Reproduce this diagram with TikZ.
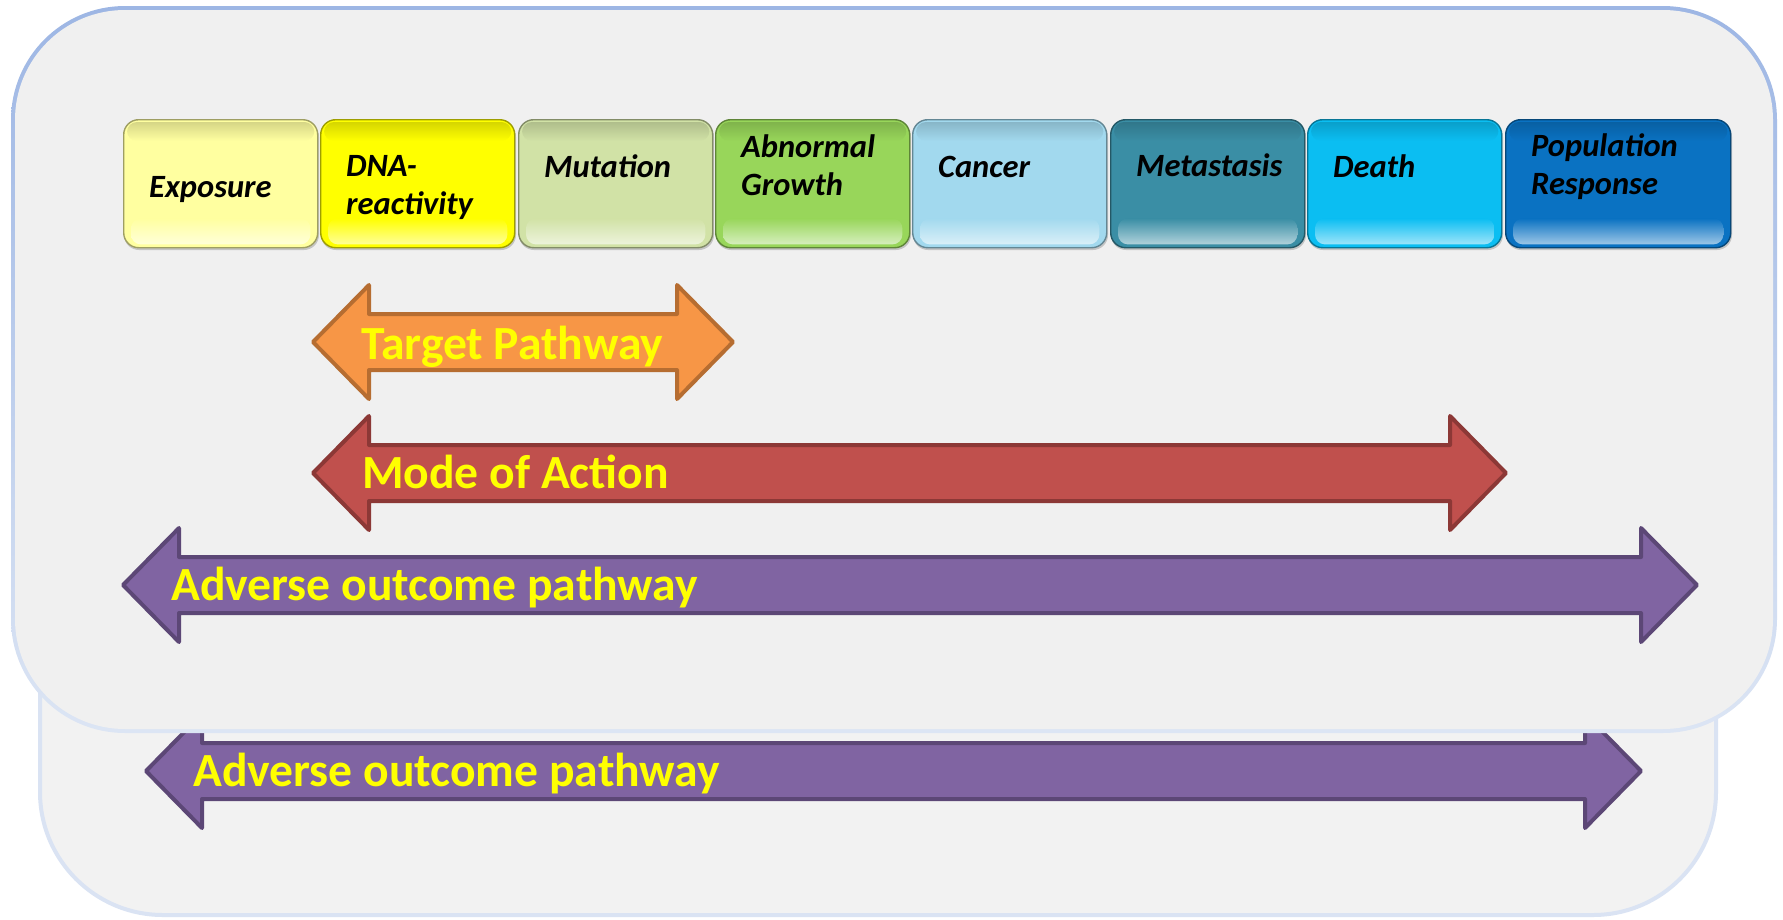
\documentclass[tikz,border=0pt]{standalone}
\usepackage{fontspec}
\setmainfont{Carlito}
\usetikzlibrary{calc}

% panel colours
\definecolor{panelfill}{HTML}{F0F0F0}
\definecolor{backfill}{HTML}{F2F2F2}
\definecolor{backedge}{HTML}{DAE3F3}
\definecolor{edgetop}{HTML}{9DB6E4}
\definecolor{edgebottom}{HTML}{DCE5F4}
% stage colours
\definecolor{cExposure}{HTML}{FFFFA0}
\definecolor{cDNA}{HTML}{FFFF00}
\definecolor{cMutation}{HTML}{D1E2A6}
\definecolor{cGrowth}{HTML}{98D65A}
\definecolor{cCancer}{HTML}{A2D9EE}
\definecolor{cMeta}{HTML}{3A8EA5}
\definecolor{cDeath}{HTML}{0BBEF2}
\definecolor{cPop}{HTML}{0A72C2}
% band colours
\definecolor{orangefill}{HTML}{F79646}
\definecolor{orangeedge}{HTML}{B66D31}
\definecolor{redfill}{HTML}{C0504D}
\definecolor{rededge}{HTML}{8C3836}
\definecolor{purplefill}{HTML}{8064A2}
\definecolor{purpleedge}{HTML}{5C4776}
\definecolor{labelyellow}{HTML}{FFFF00}

\tikzset{
  stage/.style={rectangle, rounded corners=15pt, inner sep=0pt, minimum height=128pt,
                line width=1.4pt, anchor=north west},
  stagetext/.style={anchor=base west, inner sep=0pt,
                    font=\fontsize{32.5}{38.5}\selectfont\bfseries\itshape, text=black},
  bandlabel/.style={anchor=base west, inner sep=0pt,
                    font=\fontsize{47.6}{56}\selectfont\bfseries, text=labelyellow},
  band/.style={line width=4pt, line join=round},
}

\newcommand{\twolines}[2]{\begin{tabular}[t]{@{}l@{}}#1\\#2\end{tabular}}

% glossy stage box: name, left x, width, colour, first baseline, text
\newcommand{\stagebox}[6]{%
  \fill[black, opacity=0.18, rounded corners=15pt] ({#2+1},122) rectangle ({#2+#3+2},250);
  \node[stage, minimum width=#3pt, fill=#4, draw=#4!62!black] (#1) at (#2,119) {};
  \shade[rounded corners=10pt, top color=#4!84!black, bottom color=#4]
    ($(#1.north west)+(4,3)$) rectangle ($(#1.north east)+(-4,22)$);
  \shade[rounded corners=10pt, top color=#4, bottom color=#4!40!white]
    ($(#1.south west)+(8,-30)$) rectangle ($(#1.south east)+(-8,-4)$);
  \node[stagetext] (#1-label) at ({#2+26},#5) {#6};
}

% block double arrow: left tip x, right tip x, centre y, fill, edge
\newcommand{\bandarrow}[5]{%
  \draw[band, fill=#4, draw=#5]
    (#1,#3) -- ({#1+56},{#3-57}) -- ({#1+56},{#3-28}) -- ({#2-56},{#3-28})
    -- ({#2-56},{#3-57}) -- (#2,#3) -- ({#2-56},{#3+57}) -- ({#2-56},{#3+28})
    -- ({#1+56},{#3+28}) -- ({#1+56},{#3+57}) -- cycle;
}

\begin{document}
\begin{tikzpicture}[x=1pt, y=-1pt]
  \useasboundingbox (0,0) rectangle (1783,919);
  \fill[white] (0,0) rectangle (1783,919);

  % rear panel with its own pathway band
  \draw[fill=backfill, draw=backedge, line width=4pt, rounded corners=123pt]
    (40,175) rectangle (1716,915);
  \bandarrow{146}{1641}{771}{purplefill}{purpleedge}
  \node[bandlabel] (aopRear) at (193,786) {Adverse outcome pathway};

  % front panel: shaded rim, then the flat face inside it
  \shade[top color=edgetop, bottom color=edgebottom, rounded corners=114pt]
    (11,6) rectangle (1777,733);
  \fill[panelfill, rounded corners=110pt] (15,10) rectangle (1773,729);

  % sequence of key events
  \stagebox{exposure}{123}{194}{cExposure}{197}{Exposure}
  \stagebox{dna}{320}{194}{cDNA}{176}{\twolines{DNA-}{reactivity}}
  \stagebox{mutation}{518}{194}{cMutation}{177}{Mutation}
  \stagebox{growth}{715}{194}{cGrowth}{157}{\twolines{Abnormal}{Growth}}
  \stagebox{cancer}{912}{194}{cCancer}{177}{Cancer}
  \stagebox{metastasis}{1110}{194}{cMeta}{176}{Metastasis}
  \stagebox{death}{1307}{194}{cDeath}{177}{Death}
  \stagebox{population}{1505}{225}{cPop}{156}{\twolines{Population}{Response}}

  % scope bands
  \bandarrow{313}{733}{342}{orangefill}{orangeedge}
  \node[bandlabel] (target) at (361,359) {Target Pathway};

  \bandarrow{313}{1506}{473}{redfill}{rededge}
  \node[bandlabel] (moa) at (362,488) {Mode of Action};

  \bandarrow{123}{1697}{585}{purplefill}{purpleedge}
  \node[bandlabel] (aop) at (171,600) {Adverse outcome pathway};
\end{tikzpicture}
\end{document}
